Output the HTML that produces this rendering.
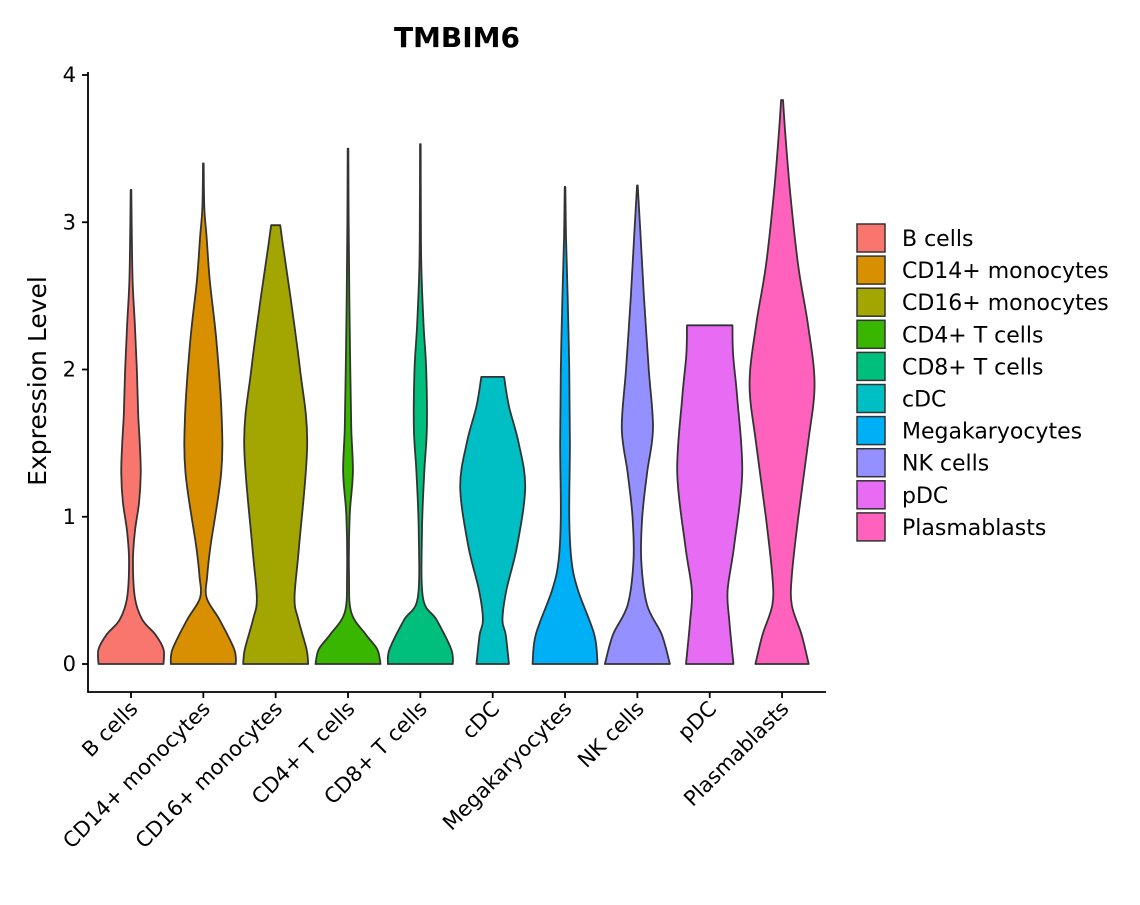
<!DOCTYPE html>
<html><head><meta charset="utf-8"><style>
body{margin:0;background:#fff;font-family:"Liberation Sans","DejaVu Sans",sans-serif}
</style></head><body>
<svg id="chart" width="1140" height="900" xmlns="http://www.w3.org/2000/svg" font-family="'DejaVu Sans','Liberation Sans',sans-serif"></svg>
<script>
const categories=["B cells","CD14+ monocytes","CD16+ monocytes","CD4+ T cells","CD8+ T cells","cDC","Megakaryocytes","NK cells","pDC","Plasmablasts"];
const colors=["#F8766D","#D89000","#A3A500","#39B600","#00BF7D","#00BFC4","#00B0F6","#9590FF","#E76BF3","#FF62BC"];
const yTicks=[0,1,2,3,4];
// density profiles: [expression value, relative half-width]
const profB=[[0,1],[0.1,1],[0.2,0.75],[0.3,0.35],[0.45,0.12],[0.7,0.06],[0.9,0.12],[1.1,0.25],[1.3,0.3],[1.5,0.27],[1.7,0.22],[2.0,0.18],[2.3,0.12],[2.6,0.05],[3.0,0.02],[3.22,0.01]];
const profCD14=[[0,1],[0.1,0.95],[0.3,0.5],[0.45,0.1],[0.6,0.12],[0.8,0.22],[1.3,0.55],[1.7,0.56],[2.2,0.4],[2.6,0.2],[2.9,0.1],[3.1,0.03],[3.4,0.01]];
const profCD16=[[0,1],[0.1,0.95],[0.3,0.7],[0.45,0.58],[0.8,0.72],[1.5,0.97],[2.0,0.75],[2.5,0.45],[2.85,0.22],[2.98,0.14]];
const profCD4=[[0,1],[0.1,0.9],[0.2,0.55],[0.35,0.1],[0.6,0.03],[1.0,0.05],[1.3,0.15],[1.6,0.1],[2.0,0.07],[2.5,0.04],[3.0,0.02],[3.5,0.01]];
const profCD8=[[0,1],[0.1,0.95],[0.3,0.5],[0.45,0.08],[0.9,0.05],[1.3,0.12],[1.6,0.2],[2.0,0.18],[2.3,0.1],[2.7,0.03],[3.1,0.015],[3.53,0.01]];
const profcDC=[[0,0.5],[0.2,0.4],[0.3,0.3],[0.5,0.42],[0.8,0.75],[1.2,1.0],[1.5,0.8],[1.75,0.5],[1.95,0.35]];
const profMega=[[0,1],[0.2,0.9],[0.5,0.4],[0.7,0.2],[1.0,0.13],[1.5,0.15],[2.0,0.13],[2.5,0.08],[2.9,0.03],[3.24,0.01]];
const profNK=[[0,1],[0.2,0.75],[0.4,0.3],[0.7,0.12],[1.0,0.15],[1.3,0.3],[1.6,0.48],[2.0,0.35],[2.5,0.2],[2.9,0.1],[3.25,0.01]];
const profpDC=[[0,0.73],[0.3,0.6],[0.5,0.55],[0.8,0.75],[1.3,1.0],[1.8,0.85],[2.1,0.72],[2.3,0.7]];
const profPlasma=[[0,0.82],[0.2,0.6],[0.4,0.3],[0.6,0.3],[1.0,0.5],[1.5,0.8],[1.9,1.0],[2.3,0.8],[2.7,0.5],[3.2,0.25],[3.6,0.1],[3.83,0.03]];
const profiles=[profB,profCD14,profCD16,profCD4,profCD8,profcDC,profMega,profNK,profpDC,profPlasma];

const svg=document.getElementById('chart');
const NS="http://www.w3.org/2000/svg";
const L=88,R=826,T=75,B=664;
const yS=v=>664-v*147.25;
const xS=i=>131+i*72.34;
const HW=32.5;
function mk(t,a,txt){const e=document.createElementNS(NS,t);for(const k in a)e.setAttribute(k,a[k]);if(txt!==undefined)e.textContent=txt;svg.appendChild(e);return e;}
function smooth(pts){let d="";for(let i=0;i<pts.length-1;i++){const p0=pts[i-1]||pts[i],p1=pts[i],p2=pts[i+1],p3=pts[i+2]||p2;
const c1=[p1[0]+(p2[0]-p0[0])/6,p1[1]+(p2[1]-p0[1])/6],c2=[p2[0]-(p3[0]-p1[0])/6,p2[1]-(p3[1]-p1[1])/6];
d+=` C${c1[0]},${c1[1]} ${c2[0]},${c2[1]} ${p2[0]},${p2[1]}`;}return d;}
const t=mk('text',{x:457,y:47,'text-anchor':'middle','font-size':28,'font-weight':'bold'},"TMBIM6");

profiles.forEach((p,i)=>{
  const cx=xS(i);
  const right=p.map(q=>[cx+q[1]*HW,yS(q[0])]);
  const left=p.slice().reverse().map(q=>[cx-q[1]*HW,yS(q[0])]);
  let d=`M${cx-p[0][1]*HW},${yS(p[0][0])} L${right[0][0]},${right[0][1]}`+smooth(right)+` L${left[0][0]},${left[0][1]}`+smooth(left)+"Z";
  const e=mk('path',{d:d,fill:colors[i],stroke:'#333','stroke-width':1.8,'stroke-linejoin':'round'});
  
  
});
const ax=mk('path',{d:`M${L},${T-3} V692 H${R}`,fill:'none',stroke:'#000','stroke-width':1.8});

yTicks.forEach(v=>{
  const tk=mk('line',{x1:L-6,x2:L,y1:yS(v),y2:yS(v),stroke:'#000','stroke-width':1.8});
  
  const lb=mk('text',{x:L-12,y:yS(v)+7,'text-anchor':'end','font-size':21},v);
  
});
categories.forEach((c,i)=>{
  const tk=mk('line',{x1:xS(i),x2:xS(i),y1:692,y2:698,stroke:'#000','stroke-width':1.8});
  
  const lb=mk('text',{x:xS(i)+8,y:710,'text-anchor':'end','font-size':21,transform:`rotate(-45 ${xS(i)+8} 710)`},c);
  
});
const yt=mk('text',{x:46,y:381,'text-anchor':'middle','font-size':25,transform:'rotate(-90 46 381)'},"Expression Level");

categories.forEach((c,i)=>{
  const y=224+i*32.1;
  const r=mk('rect',{x:857,y:y,width:28,height:28,fill:colors[i],stroke:'#333','stroke-width':1.5});
  
  const lb=mk('text',{x:902,y:y+22,'font-size':22},c);
  
});
</script>
</body></html>
